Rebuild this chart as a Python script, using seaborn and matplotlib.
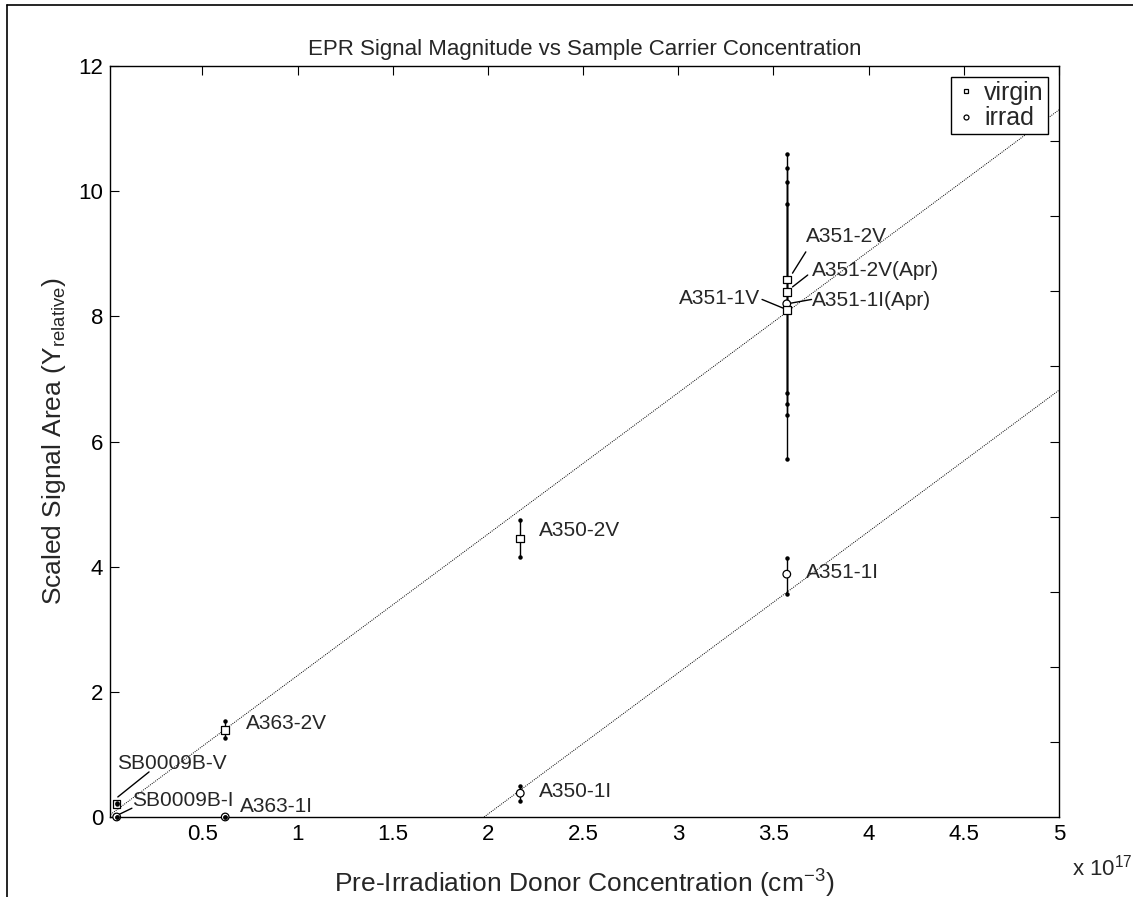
import numpy as np
import pandas as pd
import seaborn as sns
import matplotlib.pyplot as plt
from matplotlib.lines import Line2D

# sample measurements (donor concentration in units of 1e17 cm^-3)
samples = ['SB0009B-V', 'SB0009B-I', 'A363-2V', 'A363-1I', 'A350-2V', 'A350-1I',
           'A351-1I', 'A351-2V', 'A351-2V(Apr)', 'A351-1I(Apr)', 'A351-1V']
groups = ['virgin', 'irrad', 'virgin', 'irrad', 'virgin', 'irrad',
          'irrad', 'virgin', 'virgin', 'irrad', 'virgin']
conc = [0.05, 0.05, 0.62, 0.62, 2.17, 2.17, 3.57, 3.57, 3.57, 3.57, 3.57]
area = [0.21, 0.0, 1.39, 0.0, 4.45, 0.38, 3.88, 8.59, 8.39, 8.20, 8.10]
area_lo = [0.20, 0.0, 1.26, 0.0, 4.15, 0.25, 3.56, 6.60, 6.42, 5.72, 6.77]
area_hi = [0.22, 0.0, 1.53, 0.0, 4.74, 0.50, 4.14, 10.60, 10.37, 10.14, 9.79]

# fitted lines (end points)
virgin_fit_x = [0.0, 5.0]
virgin_fit_y = [0.0, 11.3]
irrad_fit_x = [1.98, 5.0]
irrad_fit_y = [0.0, 6.82]

# label text positions and leader lines (data units)
label_x = [0.05, 0.13, 0.73, 0.70, 2.27, 2.27, 3.67, 3.67, 3.70, 3.70, 3.43]
label_y = [0.85, 0.27, 1.50, 0.16, 4.58, 0.40, 3.90, 9.27, 8.74, 8.26, 8.29]
label_ha = ['left'] * 10 + ['right']
leaders = {
    'SB0009B-V': (0.056, 0.32, 0.22, 0.72),
    'SB0009B-I': (0.055, 0.03, 0.13, 0.14),
    'A351-2V': (3.60, 8.69, 3.67, 9.03),
    'A351-2V(Apr)': (3.60, 8.47, 3.68, 8.66),
    'A351-1I(Apr)': (3.59, 8.21, 3.70, 8.27),
    'A351-1V': (3.44, 8.27, 3.56, 8.12),
}

df = pd.DataFrame({'sample': samples, 'group': groups, 'conc': conc,
                   'area': area, 'lo': area_lo, 'hi': area_hi})

sns.set_style('white')
plt.rcParams['font.family'] = ['Liberation Sans', 'DejaVu Sans']
plt.rcParams['mathtext.fontset'] = 'custom'
plt.rcParams['mathtext.rm'] = 'Liberation Sans'

fig = plt.figure(figsize=(11.33, 8.97), dpi=100)
ax = fig.add_axes([0.0971, 0.0892, 0.8376, 0.8372])

# fit lines
ax.plot(virgin_fit_x, virgin_fit_y, ls=(0, (1, 1.2)), color='black', lw=0.7)
ax.plot(irrad_fit_x, irrad_fit_y, ls=(0, (1, 1.2)), color='black', lw=0.7)

# error bars
for _, r in df.iterrows():
    ax.plot([r['conc'], r['conc']], [r['lo'], r['hi']], color='black', lw=1)

sns.scatterplot(data=df, x='conc', y='area', style='group',
                markers={'virgin': 's', 'irrad': 'o'}, style_order=['virgin', 'irrad'],
                s=30, facecolor='white', edgecolor='black', linewidth=0.9,
                ax=ax, zorder=3, clip_on=False)
# dot end caps drawn over the hollow markers
ax.plot(df['conc'], df['lo'], ls='none', marker='o', ms=2.2, color='black', zorder=4, clip_on=False)
ax.plot(df['conc'], df['hi'], ls='none', marker='o', ms=2.2, color='black', zorder=4, clip_on=False)

for s, lx, ly, ha in zip(samples, label_x, label_y, label_ha):
    ax.text(lx, ly, s, ha=ha, va='center', fontsize=15)
    if s in leaders:
        x0, y0, x1, y1 = leaders[s]
        ax.plot([x0, x1], [y0, y1], color='black', lw=1)

ax.set_xlim(0.015, 5)
ax.set_ylim(0, 12)
ax.set_xticks([0.5, 1, 1.5, 2, 2.5, 3, 3.5, 4, 4.5, 5])
ax.set_xticklabels(['0.5', '1', '1.5', '2', '2.5', '3', '3.5', '4', '4.5', '5'])
ax.set_yticks([0, 2, 4, 6, 8, 10, 12])
ax.tick_params(direction='in', length=6.5, width=0.8, labelsize=16,
               top=True, right=False, colors='black', pad=5)
for sp in ax.spines.values():
    sp.set_color('black')
    sp.set_linewidth(1)

ax.set_title('EPR Signal Magnitude vs Sample Carrier Concentration', fontsize=16, pad=8)
ax.set_xlabel('Pre-Irradiation Donor Concentration (cm$^{\\mathregular{-3}}$)', fontsize=19, labelpad=15)
ax.set_ylabel('Scaled Signal Area (Y$_{\\mathregular{relative}}$)', fontsize=19, labelpad=7)

leg = ax.legend(loc='upper right', fontsize=18, frameon=True, fancybox=False,
                edgecolor='black', framealpha=1, borderpad=0.15, labelspacing=0.05,
                handletextpad=0.3, handlelength=0.9, borderaxespad=0.45, markerscale=0.65)
leg.get_frame().set_linewidth(1)
leg.set_title(None)

# unlabeled ticks on the right side
ax2 = ax.twinx()
ax2.set_ylim(0, 10)
ax2.set_yticks(np.arange(1, 10))
ax2.set_yticklabels([])
ax2.tick_params(direction='in', length=6.5, width=0.8, colors='black')
for sp in ax2.spines.values():
    sp.set_visible(False)

fig.text(0.946, 0.033, 'x 10$^{\\mathregular{17}}$', fontsize=16, ha='left', va='center')

# outer frame of the figure window
fig.add_artist(Line2D([0.006, 0.006], [0.0, 0.994], color='black', lw=1.2))
fig.add_artist(Line2D([0.006, 1.0], [0.994, 0.994], color='black', lw=1.2))

fig.savefig('out.png', dpi=100)
